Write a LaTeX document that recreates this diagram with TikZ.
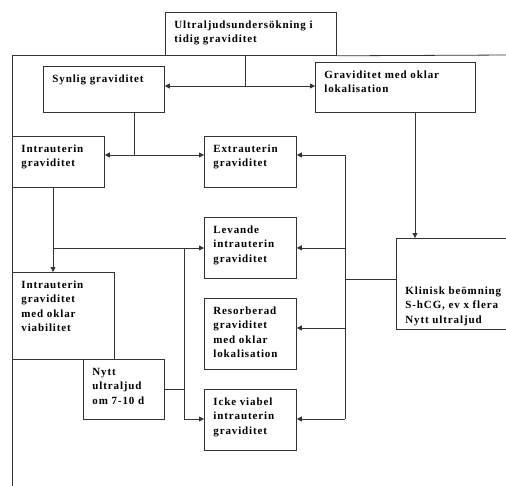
\documentclass[tikz,border=0pt]{standalone}
\usepackage{fontspec}
\setmainfont{Liberation Serif}[LetterSpace=8]
\usepackage{tikz}
\usetikzlibrary{arrows.meta, calc}

\begin{document}
\begin{tikzpicture}[x=1pt, y=-1pt,
    box/.style={draw=black!80, line width=0.8pt, anchor=north west, align=left,
      inner xsep=9pt, inner ysep=4pt, text height=12pt,
      font=\bfseries\fontsize{11}{14.5}\selectfont},
    link/.style={draw=black!80, line width=0.8pt},
    arr/.style={link, -{Triangle[length=5pt, width=5pt]}}]
    \useasboundingbox (0,0) rectangle (506,485);
    % Boxes
    \node[box, text width=153pt, text depth=23pt] (top) at (165,12)
      {Ultraljudsundersökning i\\tidig graviditet};
    \node[box, text width=103pt, text depth=26pt] (syn) at (43,66) {Synlig graviditet};
    \node[box, text width=142pt, text depth=30pt] (okl) at (315,62)
      {Graviditet med oklar\\lokalisation};
    \node[box, text width=74pt, text depth=31pt] (intra) at (12,136) {Intrauterin\\graviditet};
    \node[box, text width=74pt, text depth=31pt] (extra) at (204,136) {Extrauterin\\graviditet};
    \node[box, text width=74pt, text depth=41pt] (lev) at (204,217)
      {Levande\\intrauterin\\graviditet};
    \node[box, text width=74pt, text depth=51pt] (res) at (204,298)
      {Resorberad\\graviditet\\med oklar\\lokalisation};
    \node[box, text width=74pt, text depth=41pt] (icke) at (204,389)
      {Icke viabel\\intrauterin\\graviditet};
    \node[box, text width=84pt, text depth=67pt] (ivia) at (12,272)
      {Intrauterin\\graviditet\\med oklar\\viabilitet};
    \node[box, text width=63pt, text depth=40pt] (nytt) at (83,359)
      {Nytt\\ultraljud\\om 7-10 d};
    \node[box, text width=106pt, text height=52pt, text depth=31pt] (klin) at (396,238)
      {Klinisk beömning\\S-hCG, ev x flera\\Nytt ultraljud};
    % Frame lines from the top box
    \coordinate (fl) at (12,490);
    \coordinate (fr) at (510,55);
    \draw[link] (top.south west) -- (fl |- top.south west) -- (fl);
    \draw[link] (top.south east) -- (fr);
    % Top split
    \coordinate (j1) at (245,86);
    \draw[link] ($(top.south west)+(80,0)$) -- (j1);
    \draw[arr] (j1) -- (syn.east |- j1);
    \draw[arr] (j1) -- (okl.west |- j1);
    % Synlig graviditet split
    \coordinate (j2) at (134,155);
    \draw[link] (syn.south -| j2) -- (j2);
    \draw[arr] (j2) -- (intra.east |- j2);
    \draw[arr] (j2) -- (extra.west |- j2);
    % Oklar lokalisation to klinisk
    \draw[arr] ($(okl.south west)+(100,0)$) -- ($(klin.north west)+(19,0)$);
    % Bus from klinisk
    \coordinate (b1) at (345,155);
    \coordinate (b2) at (345,419);
    \coordinate (b3) at (345,279);
    \coordinate (b4) at (345,328);
    \draw[link] (b1) -- (b2);
    \draw[link] (klin.west |- b3) -- (b3);
    \draw[arr] (b1) -- (extra.east |- b1);
    \draw[arr] (lev.east -| b1) -- (lev.east);
    \draw[arr] (b4) -- (res.east |- b4);
    \draw[arr] (b2) -- (icke.east |- b2);
    % Intrauterin graviditet split
    \coordinate (j4) at (53,248);
    \draw[link] (intra.south -| j4) -- (j4);
    \draw[arr] (j4) -- (ivia.north -| j4);
    \draw[arr] (j4) -- (lev.west |- j4);
    % Nytt ultraljud
    \coordinate (j5) at (184,248);
    \coordinate (j6) at (184,419);
    \draw[link] (nytt.east) -- (nytt.east -| j5);
    \draw[link] (j5) -- (j6);
    \draw[arr] (j6) -- (icke.west |- j6);
\end{tikzpicture}
\end{document}
